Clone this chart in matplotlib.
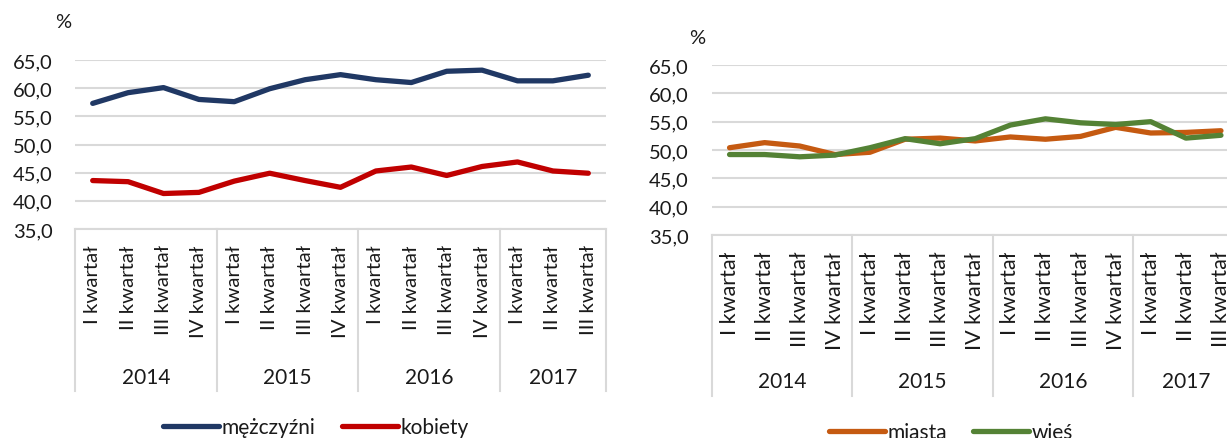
import matplotlib
matplotlib.use("Agg")
import matplotlib.pyplot as plt
from matplotlib.lines import Line2D

plt.rcParams['font.family'] = ['Lato', 'DejaVu Sans']

quarters = ["I kwartał", "II kwartał", "III kwartał", "IV kwartał",
            "I kwartał", "II kwartał", "III kwartał", "IV kwartał",
            "I kwartał", "II kwartał", "III kwartał", "IV kwartał",
            "I kwartał", "II kwartał", "III kwartał"]
years = ["2014", "2015", "2016", "2017"]
year_sizes = [4, 4, 4, 3]

mezczyzni = [57.3, 59.2, 60.1, 58.0, 57.6, 59.9, 61.5, 62.4, 61.5, 61.0, 63.0, 63.2, 61.3, 61.3, 62.3]
kobiety = [43.6, 43.4, 41.3, 41.5, 43.5, 44.9, 43.6, 42.4, 45.3, 46.0, 44.5, 46.1, 46.9, 45.3, 44.9]
miasta = [50.4, 51.3, 50.7, 49.2, 49.6, 51.9, 52.1, 51.6, 52.3, 51.9, 52.4, 54.0, 53.0, 53.1, 53.4]
wies = [49.2, 49.2, 48.8, 49.1, 50.4, 52.0, 51.1, 52.0, 54.4, 55.5, 54.8, 54.5, 55.0, 52.1, 52.6]

yticks = [35, 40, 45, 50, 55, 60, 65]
ytick_labels = ["35,0", "40,0", "45,0", "50,0", "55,0", "60,0", "65,0"]

W, H = 1227, 439
DPI = 100
fig = plt.figure(figsize=(W / DPI, H / DPI), dpi=DPI)
fig.patch.set_facecolor("white")

GRID = "#D9D9D9"
TXT = "#1a1a1a"
FS_Y = 14.5
FS_YEAR = 15
FS_LEG = 15


def px_axes(l, t, r, b):
    return [l / W, 1 - b / H, (r - l) / W, (b - t) / H]


def make_chart(rect, s1, s2, c1, c2, n1, n2, ytpad, qpad, qfs, year_y_px, div_bottom_px,
               pct_xy, leg_xy, axes_px):
    ax = fig.add_axes(rect)
    x = list(range(len(quarters)))
    ax.set_xlim(-0.5, len(quarters) - 0.5)
    ax.set_ylim(35, 65)
    ax.set_yticks(yticks)
    ax.set_yticklabels(ytick_labels, fontsize=FS_Y, color=TXT)
    ax.set_xticks(x)
    ax.set_xticklabels(quarters, rotation=90, fontsize=qfs, color=TXT)
    ax.tick_params(axis="y", length=0, pad=ytpad)
    ax.tick_params(axis="x", length=0, pad=qpad)
    ax.grid(axis="y", color=GRID, linewidth=1.5)
    ax.set_axisbelow(True)
    for s in ["top", "right", "left"]:
        ax.spines[s].set_visible(False)
    ax.spines["bottom"].set_color(GRID)
    ax.spines["bottom"].set_linewidth(1.5)
    ax.plot(x, s1, color=c1, linewidth=3.8, solid_capstyle="round", solid_joinstyle="round", zorder=3)
    ax.plot(x, s2, color=c2, linewidth=3.8, solid_capstyle="round", solid_joinstyle="round", zorder=3)

    top_px, bot_px = axes_px
    hpx = bot_px - top_px
    trans = ax.get_xaxis_transform()
    edges = [-0.5]
    for n in year_sizes:
        edges.append(edges[-1] + n)
    div_y = -(div_bottom_px - bot_px) / hpx
    for e in edges:
        ax.plot([e, e], [0, div_y], color=GRID, linewidth=1.5, transform=trans, clip_on=False)
    yy = -(year_y_px - bot_px) / hpx
    for i, yr in enumerate(years):
        c = (edges[i] + edges[i + 1]) / 2
        ax.text(c, yy, yr, transform=trans, ha="center", va="center", fontsize=FS_YEAR, color=TXT)
    fig.text(pct_xy[0] / W, 1 - pct_xy[1] / H, "%", ha="center", va="center", fontsize=FS_Y, color=TXT)
    handles = [Line2D([0], [0], color=c1, linewidth=3.8, solid_capstyle="round"),
               Line2D([0], [0], color=c2, linewidth=3.8, solid_capstyle="round")]
    fig.legend(handles, [n1, n2], loc="center", ncol=2, frameon=False,
               bbox_to_anchor=(leg_xy[0] / W, 1 - leg_xy[1] / H),
               fontsize=FS_LEG, handlelength=2.7, handletextpad=0.12, columnspacing=1.25,
               labelcolor=TXT, borderpad=0.0)
    return ax


make_chart(px_axes(75, 61, 606, 230), mezczyzni, kobiety, "#203864", "#C00000",
           "mężczyźni", "kobiety", 16, 11, 14.7, 378, 392, (63, 22), (316, 428), (61, 230))
make_chart(px_axes(712, 66, 1238.5, 236), miasta, wies, "#C55A11", "#548235",
           "miasta", "wieś", 17, 11.5, 15.5, 382, 397, (697, 38), (951, 433), (66, 236))

fig.savefig("out.png", dpi=DPI, facecolor="white")
